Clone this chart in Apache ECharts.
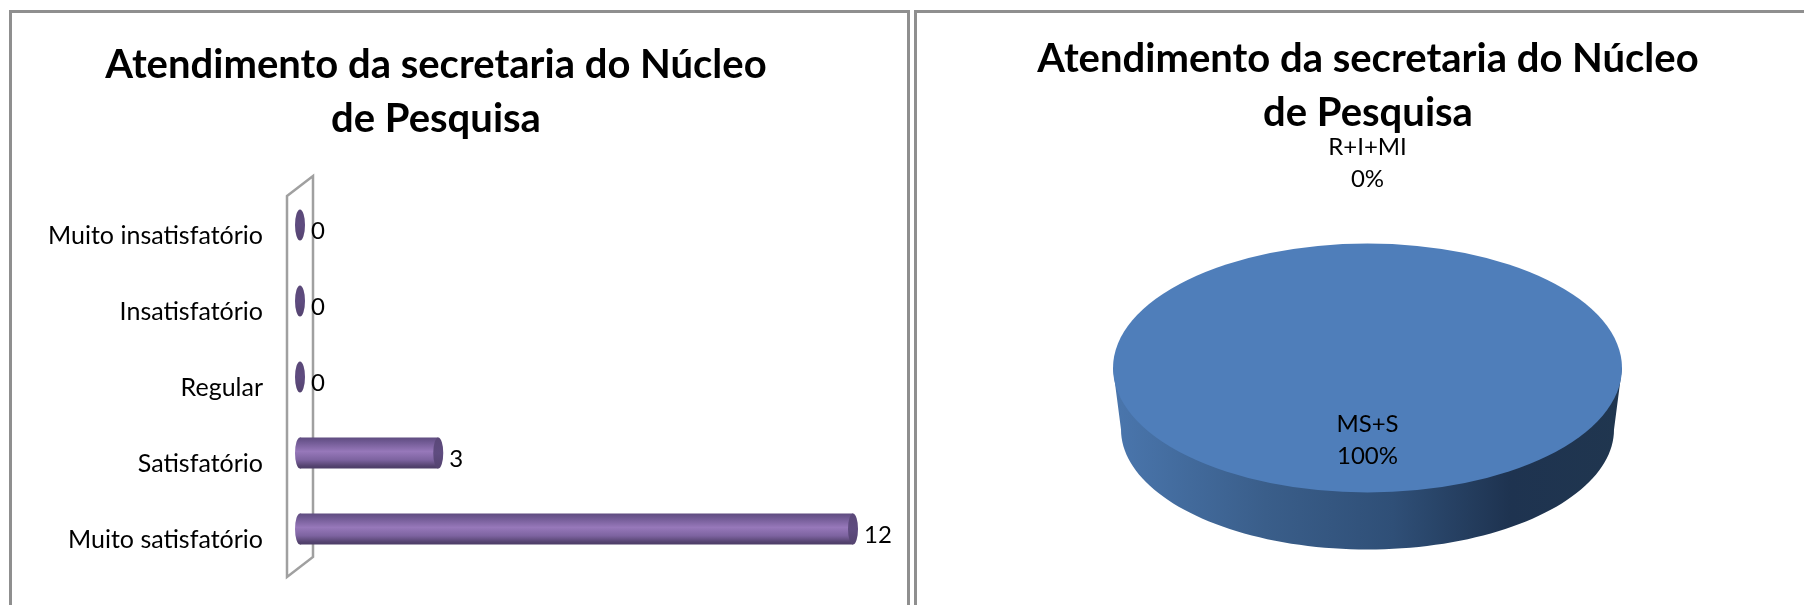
<!DOCTYPE html>
<html><head><meta charset="utf-8">
<style>html,body{margin:0;padding:0;background:#fff}#c{width:1804px;height:605px}</style>
<script src="https://cdn.jsdelivr.net/npm/echarts@6/dist/echarts.min.js"></script>
</head><body><div id="c"></div>
<script>
const titleText = 'Atendimento da secretaria do Núcleo\nde Pesquisa';
const barCategories = ['Muito satisfatório','Satisfatório','Regular','Insatisfatório','Muito insatisfatório'];
const barValues = [12,3,0,0,0];
const pieNames = ['MS+S','R+I+MI'];
const pieValues = [15,0];
const FONT = 'Lato';

const chart = echarts.init(document.getElementById('c'));
const barGrad = () => new echarts.graphic.LinearGradient(0,0,0,1,[
  {offset:0,color:'#5f4c80'},{offset:0.12,color:'#6d5790'},{offset:0.45,color:'#9778ba'},
  {offset:0.72,color:'#7d63a0'},{offset:0.92,color:'#54436f'},{offset:1,color:'#4c3d66'}]);
const capGrad = () => new echarts.graphic.LinearGradient(0,0,0,1,[
  {offset:0,color:'#5a4878'},{offset:0.5,color:'#5f4c80'},{offset:1,color:'#54436f'}]);

const P = {cx:1367.5, cy:368, rx:254.5, ry:124.5, botCy:429.5, botRx:246.5, botRy:120};
const total = pieValues.reduce((a,b)=>a+b,0);

function renderPie(params, api){
  const i = params.dataIndex, v = api.value(0);
  let before = 0; for(let k=0;k<i;k++) before += pieValues[k];
  const startA = -Math.PI/2 + before/total*2*Math.PI;
  const endA = startA + v/total*2*Math.PI;
  const mid = (startA+endA)/2;
  const share = v/total;
  const children = [];
  if(v>0){
    const pts = [[P.cx-P.rx,P.cy]];
    for(let a=180;a>=0;a-=2){
      const t=a*Math.PI/180;
      pts.push([P.cx+P.botRx*Math.cos(t), P.botCy+P.botRy*Math.sin(t)]);
    }
    pts.push([P.cx+P.rx,P.cy]);
    children.push({type:'polygon',shape:{points:pts},style:{fill:new echarts.graphic.LinearGradient(0,0,1,0,[
      {offset:0,color:'#4a76ad'},{offset:0.3,color:'#3a5e8a'},{offset:0.55,color:'#2f4f77'},
      {offset:0.78,color:'#1e3350'},{offset:1,color:'#20364f'}])}});
    children.push({type:'sector',x:P.cx,y:P.cy,scaleX:1,scaleY:P.ry/P.rx,
      shape:{cx:0,cy:0,r:P.rx,r0:0,startAngle:startA,endAngle:endA,clockwise:true},
      style:{fill:'#4f7eba'}});
  }
  const f = share>=0.5 ? 0.58 : 1.645;
  const tx = P.cx + P.rx*f*Math.cos(mid);
  const ty = P.cy + P.ry*f*Math.sin(mid);
  children.push({type:'text',x:tx,y:ty,z2:10,style:{
    text:pieNames[i]+'\n'+Math.round(share*100)+'%',
    font:'24px '+FONT,lineHeight:32,fill:'#000',align:'center',verticalAlign:'middle'}});
  return {type:'group',children};
}

chart.setOption({
  backgroundColor:'#fff',
  animation:false,
  title:[
    {text:titleText,left:431,top:33,textAlign:'center',textStyle:{fontFamily:FONT,fontWeight:'bold',fontSize:40,lineHeight:54,color:'#000'}},
    {text:titleText,left:1363,top:27,textAlign:'center',textStyle:{fontFamily:FONT,fontWeight:'bold',fontSize:40,lineHeight:54,color:'#000'}}
  ],
  grid:{left:300,top:187,width:553,height:380},
  xAxis:{type:'value',min:0,max:12,show:false},
  yAxis:{type:'category',data:barCategories,
    axisLine:{show:false},axisTick:{show:false},splitLine:{show:false},
    axisLabel:{fontFamily:FONT,fontSize:25,color:'#000',margin:37,verticalAlign:'top',lineHeight:22}},
  graphic:[
    {type:'polyline',z:0,shape:{points:[[908.5,605],[908.5,11.5],[10.5,11.5],[10.5,605]]},style:{fill:null,stroke:'#8f8f8f',lineWidth:3}},
    {type:'polyline',z:0,shape:{points:[[915.5,605],[915.5,11.5],[1804,11.5]]},style:{fill:null,stroke:'#8f8f8f',lineWidth:3}},
    {type:'polygon',z:0,shape:{points:[[287,196],[313,176],[313,557],[287,577]]},style:{fill:null,stroke:'#a0a0a0',lineWidth:2.5}}
  ],
  series:[
    {type:'scatter',name:'inicio',z:3,symbol:'circle',symbolSize:[10,31],silent:true,
      data:barValues.map((v,i)=>v>0?[0,i]:null).filter(Boolean),itemStyle:{color:barGrad(),opacity:1}},
    {type:'bar',name:'Atendimento',z:4,barWidth:31,data:barValues,itemStyle:{color:barGrad()}},
    {type:'scatter',name:'fim',z:5,symbol:'circle',symbolSize:[10,31],
      data:barValues.map((v,i)=>[v,i]),itemStyle:{color:capGrad(),opacity:1},
      label:{show:true,position:'right',distance:6,offset:[0,6],fontFamily:FONT,fontSize:24,color:'#000',
        formatter:p=>String(p.value[0])}},
    {type:'custom',name:'Pizza',coordinateSystem:'none',z:2,data:pieValues.map(v=>[v]),renderItem:renderPie}
  ]
});
</script></body></html>
